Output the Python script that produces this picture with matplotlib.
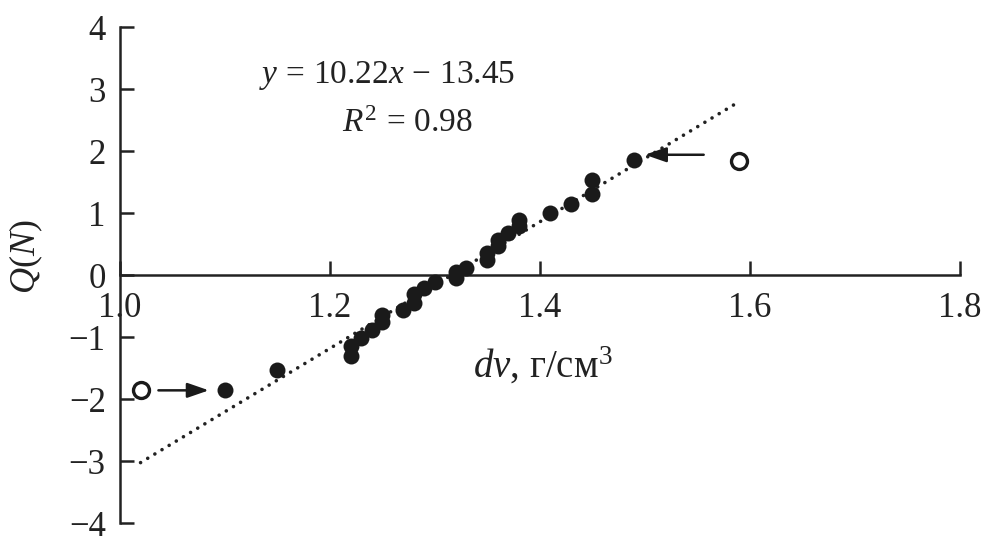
import numpy as np
import matplotlib
matplotlib.use('Agg')
import matplotlib.pyplot as plt

plt.rcParams['font.family'] = ['Liberation Serif', 'DejaVu Serif']
plt.rcParams['mathtext.fontset'] = 'custom'
plt.rcParams['mathtext.rm'] = 'Liberation Serif'
plt.rcParams['mathtext.it'] = 'Liberation Serif:italic'

# data
dv = [1.10, 1.15, 1.22, 1.22, 1.23, 1.24, 1.25, 1.25, 1.27, 1.28,
      1.28, 1.29, 1.30, 1.32, 1.32, 1.33, 1.35, 1.35, 1.36, 1.36,
      1.37, 1.38, 1.38, 1.41, 1.43, 1.45, 1.45, 1.49]
qn = [-1.85, -1.53, -1.31, -1.15, -1.02, -0.89, -0.76, -0.65, -0.56, -0.45,
      -0.31, -0.21, -0.12, -0.04, 0.05, 0.11, 0.24, 0.36, 0.47, 0.56,
      0.67, 0.79, 0.88, 1.00, 1.15, 1.31, 1.53, 1.86]
# outliers (open circles), moved to the filled points shown by arrows
out_dv = [1.02, 1.59]
out_qn = [-1.85, 1.84]
arrow_tail = [(1.037, -1.86), (1.556, 1.94)]
arrow_head = [(1.085, -1.86), (1.500, 1.94)]

slope, intercept = 10.22, -13.45
fit_range = [1.02, 1.59]

fig = plt.figure(figsize=(9.88, 5.52), dpi=100)
ax = fig.add_axes([0.121, 0.0525, 0.8507, 0.8985])

fx = np.array(fit_range)
ax.plot(fx, slope * fx + intercept, color='#222222', lw=2.6,
        linestyle=(0, (0.01, 2.3)), dash_capstyle='round', zorder=1)
ax.plot(dv, qn, 'o', color='#1a1a1a', ms=11.5, mew=0, zorder=3)
ax.plot(out_dv, out_qn, 'o', mfc='white', mec='#1a1a1a', ms=11.5, mew=2.4, zorder=3)

for tail, head in zip(arrow_tail, arrow_head):
    ax.annotate('', xy=head, xytext=tail,
                arrowprops=dict(arrowstyle='-|>,head_length=1.3,head_width=0.45',
                                mutation_scale=10, lw=1.8, color='#1a1a1a',
                                shrinkA=0, shrinkB=0))

ax.set_xlim(1.0, 1.8)
ax.set_ylim(-4, 4)
ax.set_xticks([1.0, 1.2, 1.4, 1.6, 1.8])
ax.set_yticks(range(-4, 5))

for s in ['top', 'right']:
    ax.spines[s].set_visible(False)
ax.spines['bottom'].set_position(('data', 0))
for s in ['left', 'bottom']:
    ax.spines[s].set_linewidth(1.8)
    ax.spines[s].set_color('#222222')

ax.tick_params(axis='both', direction='in', length=10, width=1.8,
               color='#222222', labelsize=25, labelcolor='#222222')
ax.tick_params(axis='x', pad=12)
ax.tick_params(axis='y', pad=10)

ax.text(1.255, 3.10, r'$y\,=\,10.22x\,-\,13.45$', fontsize=24,
        ha='center', va='baseline', color='#222222')
ax.text(1.274, 2.31, r'$R^2\,=\,0.98$', fontsize=24,
        ha='center', va='baseline', color='#222222')

ax.set_xlabel('$dv$, г/см$^3$', fontsize=28, color='#222222', va='baseline')
ax.xaxis.set_label_coords(0.503, 0.294)
ax.set_ylabel('$Q(N)$', fontsize=26, color='#222222', va='center')
ax.yaxis.set_label_coords(-0.111, 0.536)

fig.savefig('out.png', dpi=100)
